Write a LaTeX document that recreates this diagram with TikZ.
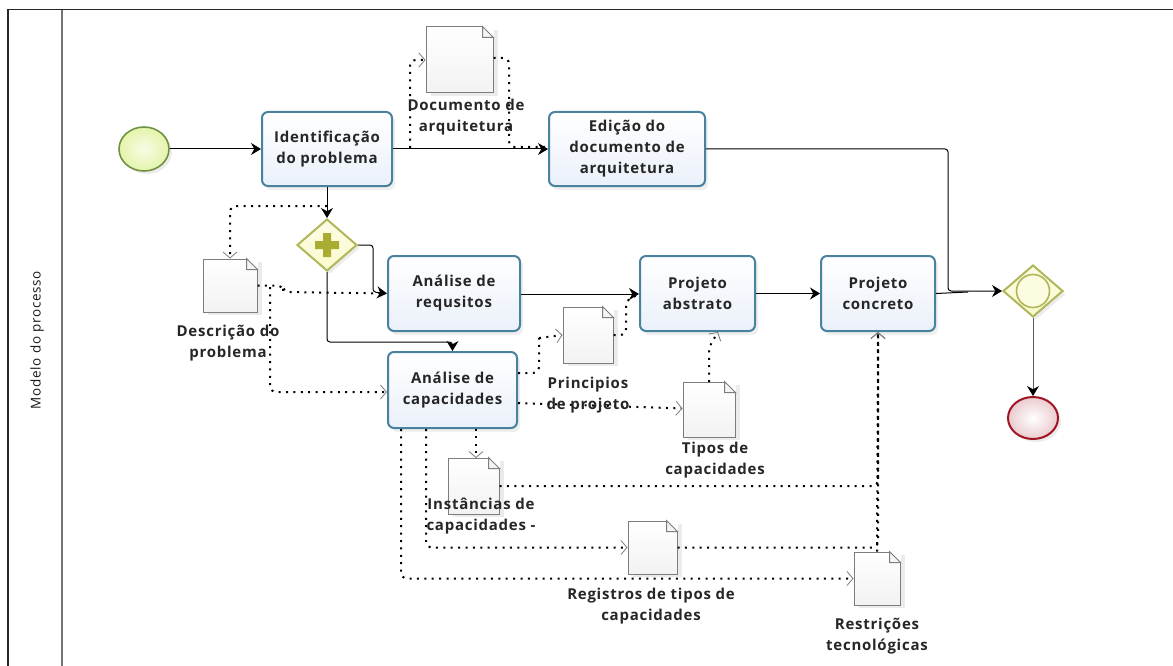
\documentclass[tikz,border=0pt]{standalone}
\usepackage{fontspec}
\setmainfont{Open Sans}[LetterSpace=5]
\usepackage{tikz}
\usetikzlibrary{positioning, arrows.meta, shapes.geometric, shadows, calc}
\definecolor{taskedge}{RGB}{72,130,158}
\definecolor{taskfill}{RGB}{234,240,250}
\definecolor{gateedge}{RGB}{176,182,90}
\definecolor{gatefill}{RGB}{250,250,205}
\definecolor{plusfill}{RGB}{170,172,50}
\definecolor{startedge}{RGB}{112,145,70}
\definecolor{startfill}{RGB}{228,244,170}
\definecolor{endedge}{RGB}{160,20,35}
\definecolor{docedge}{RGB}{125,125,125}
\tikzset{
    taskbox/.style={rectangle, rounded corners=6pt, draw=taskedge, line width=2pt, top color=white, bottom color=taskfill, align=center, text=black!85, font=\bfseries\fontsize{15}{21}\selectfont, drop shadow={shadow xshift=3pt, shadow yshift=-4pt, opacity=.13}},
    gatebox/.style={diamond, draw=gateedge, line width=2pt, top color=gatefill!50, bottom color=gatefill, inner sep=0pt, minimum width=60pt, minimum height=52pt, aspect=1.15, drop shadow={shadow xshift=3pt, shadow yshift=-3pt, opacity=.15}},
    docbox/.style={rectangle, draw=docedge, line width=1pt, inner sep=0pt, top color=white, bottom color=black!5, drop shadow={shadow xshift=5pt, shadow yshift=-3pt, opacity=.16}},
    doclabel/.style={align=center, inner sep=0pt, text=black!85, font=\bfseries\fontsize{15}{21}\selectfont},
    flow/.style={draw=black, line width=1pt, rounded corners=3pt, -{Stealth[length=10pt, width=12pt, color=black]}},
    plainflow/.style={draw=black, line width=1pt, rounded corners=3pt},
    assoc/.style={draw=black, line width=2pt, dash pattern=on 2pt off 5.4pt, rounded corners=6pt, -{Straight Barb[length=6pt, width=14pt, color=docedge, line width=.8pt]}},
    plainassoc/.style={draw=black, line width=2pt, dash pattern=on 2pt off 5.4pt, rounded corners=6pt},
}
\begin{document}
\begin{tikzpicture}[x=1pt, y=-1pt]
    \useasboundingbox (0,0) rectangle (1173,666);
    % Moldura
    \draw[line width=1.5pt, black!85] (1173,9.5) -- (8,9.5) -- (8,666);
    \draw[line width=2pt, black!55] (62,10) -- (62,666);
    \node[rotate=90, text=black!90, font=\fontsize{13.5}{15}\selectfont] (pool) at (37,340) {Modelo do processo};

    % Eventos e gateways
    \node[ellipse, draw=startedge, line width=1.6pt, inner color=white!70!startfill, outer color=startfill, minimum width=50pt, minimum height=44pt, drop shadow={shadow xshift=3pt, shadow yshift=-3pt, opacity=.15}] (inicio) at (144,149) {};
    \node[ellipse, draw=endedge, line width=2pt, inner color=white, outer color=endedge!22, minimum width=50pt, minimum height=42pt, drop shadow={shadow xshift=3pt, shadow yshift=-3pt, opacity=.15}] (fim) at (1033,418) {};
    \node[gatebox] (paralelo) at (327,245) {};
    \fill[plusfill] (315,241) rectangle (339,249) (323,233) rectangle (331,257);

    % Tarefas
    \node[taskbox, minimum width=130pt, minimum height=74pt] (identificacao) at (327,149) {Identificação\\do problema};
    \node[taskbox, minimum width=156pt, minimum height=74pt] (edicao) at (627,149) {Edição do\\documento de\\arquitetura};
    \node[taskbox, minimum width=132pt, minimum height=75pt] (requisitos) at (454,293.5) {Análise de\\requsitos};
    \node[taskbox, minimum width=129pt, minimum height=76pt] (capacidades) at (452.5,390) {Análise de\\capacidades};
    \node[taskbox, minimum width=115pt, minimum height=75pt] (abstrato) at (697.5,293.5) {Projeto\\abstrato};
    \node[taskbox, minimum width=114pt, minimum height=75pt] (concreto) at (878,293.5) {Projeto\\concreto};

    % Documentos
    \node[docbox, minimum width=67pt, minimum height=66pt] (docarq) at (459.5,60) {};
    \node[docbox, minimum width=54pt, minimum height=53pt] (docdesc) at (230,285.5) {};
    \node[docbox, minimum width=50pt, minimum height=56pt] (docprin) at (588,335) {};
    \node[docbox, minimum width=52pt, minimum height=55pt] (doctipos) at (709,409.5) {};
    \node[docbox, minimum width=51pt, minimum height=56pt] (docinst) at (473.5,486) {};
    \node[docbox, minimum width=49pt, minimum height=53pt] (docreg) at (652.5,547.5) {};
    \node[docbox, minimum width=46pt, minimum height=53pt] (docrest) at (877,578.5) {};
    \foreach \d in {docarq,docdesc,docprin,doctipos,docinst,docreg,docrest} {
        \fill[white] ($(\d.north east)+(-11,-.5)$) -- ($(\d.north east)+(.5,-.5)$) -- ($(\d.north east)+(.5,11)$) -- cycle;
        \filldraw[draw=docedge, fill=black!4, line width=1pt] ($(\d.north east)+(-11,0)$) -- ($(\d.north east)+(0,11)$) -- ($(\d.north east)+(-11,11)$) -- cycle;
    }

    % Fluxos de sequencia
    \draw[flow] (inicio) -- (identificacao);
    \draw[flow] (identificacao) -- (edicao);
    \draw[flow] (identificacao) -- (paralelo);
    \draw[flow] (paralelo.east) -| (373,292) -- (requisitos.west);
    \draw[flow] (paralelo.south) |- (capacidades.north |- 0,342) -- (capacidades.north);
    \draw[flow] ([yshift=-.5pt]requisitos.east) -- ([yshift=-.5pt]abstrato.west);
    \draw[flow] (abstrato) -- (concreto);
    \draw[plainflow] (concreto.east) -- (968,292);

    % Gateway de evento
    \node[gatebox] (evento) at (1033,291) {};
    \node[circle, draw=gateedge, line width=1.6pt, fill=gatefill!60, minimum size=33pt, inner sep=0pt] (eventoint) at (evento) {};
    \draw[flow] (edicao.east) -| (948,291) -- (evento.west);
    \draw[flow, draw=black!65] (evento.south) -- (fim.north);

    % Associacoes
    \draw[assoc] (410,148) -- (410,60) -- (docarq.west);
    \draw[plainassoc] ([yshift=2pt]docarq.east) -| (509,147) -- ([yshift=2pt]edicao.west);
    \draw[assoc] (327,206) -| (docdesc.north);
    \draw[plainassoc] (docdesc.east) -- (283,285.5) -- (283,292) -- ([xshift=-3pt]requisitos.west);
    \draw[assoc] (270,287) |- ([yshift=-2pt]capacidades.west);
    \draw[plainassoc] ([yshift=17pt]capacidades.east) -- (539,373) -- (539,338);
    \draw[assoc] (539,338) -- (docprin.west);
    \draw[plainassoc] (docprin.east) -- (626,335) -- (626,300) -- ([yshift=-1pt]abstrato.west);
    \draw[assoc] ([yshift=-13pt]capacidades.east) -- ([yshift=1pt]doctipos.west);
    \draw[assoc] (709,382) -- (709,347) -- (718,332);
    \draw[assoc] ([xshift=23.5pt]capacidades.south) -- (476,458);
    \draw[assoc] ([xshift=-26.5pt]capacidades.south) |- (docreg.west);
    \draw[assoc] ([xshift=-51.5pt]capacidades.south) |- (docrest.west);
    \draw[assoc] (docinst.east) -| (concreto.south);
    \draw[assoc] (docreg.east) -| (concreto.south);
    \draw[assoc] (docrest.north) -- (concreto.south);

    % Rotulos
    \node[doclabel] (labarq) at (466,117) {Documento de\\arquitetura};
    \node[doclabel] (labdesc) at (228,343) {Descrição do\\problema};
    \node[doclabel] (labprin) at (588,395) {Principios\\de projeto};
    \node[doclabel] (labtipos) at (715,460) {Tipos de\\capacidades};
    \node[doclabel] (labinst) at (481,516) {Instâncias de\\capacidades -};
    \node[doclabel] (labreg) at (651,606) {Registros de tipos de\\capacidades};
    \node[doclabel] (labrest) at (877,636) {Restrições\\tecnológicas};
\end{tikzpicture}
\end{document}
